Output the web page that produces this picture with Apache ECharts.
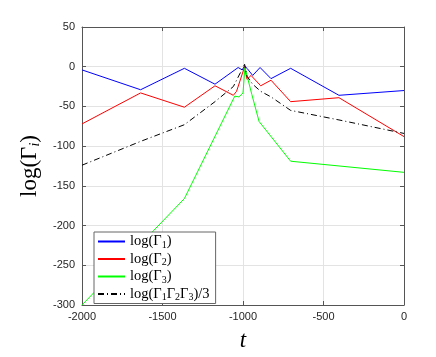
<!doctype html>
<html>
<head>
<meta charset="utf-8">
<title></title>
<style>
body{margin:0;background:#fff}
#main{width:436px;height:357px}
</style>
</head>
<body>
<div id="main"></div>
<script src="https://cdn.jsdelivr.net/npm/echarts@6/dist/echarts.min.js"></script>
<script>
// values
var t1 = [-2000, -1636, -1364, -1174, -1030, -1005, -990, -975, -940, -894, -826, -704, -404, 0];
var g1 = [-4, -29, -2, -22, -1, -4, 1, -2, -11, -1, -15, -2, -36, -30];

var t2 = [-2000, -1636, -1364, -1174, -1060, -1040, -990, -975, -950, -890, -826, -704, -404, 0];
var g2 = [-72, -33, -51, -24, -36, -31, 0, -16, -11, -24, -17, -44, -39, -88];

var t3 = [-2000, -1364, -1051, -1025, -1000, -988, -945, -900, -704, 0];
var g3 = [-300, -166, -37, -38, -33, -1, -35, -69, -119, -133];

var t4 = [-2000, -1636, -1364, -1174, -1060, -990, -975, -940, -890, -826, -704, -404, 0];
var g4 = [-124, -94, -73, -44, -25, 3, -12, -22, -31, -38, -55, -67, -84];

var xTicks = [-2000, -1500, -1000, -500, 0];
var yTicks = [-300, -250, -200, -150, -100, -50, 0, 50];

function pairs(t, v) {
    return t.map(function (x, i) { return [x, v[i]]; });
}

var frame = '#555';
var serif = 'Liberation Serif, DejaVu Serif, serif';
var sans = 'Liberation Sans, Arial, sans-serif';

var chart = echarts.init(document.getElementById('main'));
var option = {
    animation: false,
    backgroundColor: '#fff',
    grid: { left: 82, right: 32, top: 27, bottom: 45 },
    legend: {
        orient: 'vertical',
        left: 94, top: 232,
        padding: [2, 6, 1, 3],
        itemGap: 1.5,
        itemWidth: 27, itemHeight: 10,
        itemStyle: { color: 'rgba(0,0,0,0)', borderWidth: 0, opacity: 0 },
        backgroundColor: '#fff',
        borderColor: '#666', borderWidth: 1,
        data: ['g1', 'g2', 'g3', 'g4'],
        formatter: function (name) {
            var map = {
                g1: '{a|log(Γ}{s|1}{a|)}',
                g2: '{a|log(Γ}{s|2}{a|)}',
                g3: '{a|log(Γ}{s|3}{a|)}',
                g4: '{a|log(Γ}{s|1}{a|Γ}{s|2}{a|Γ}{s|3}{a|)/3}'
            };
            return map[name];
        },
        textStyle: {
            rich: {
                a: { fontFamily: serif, fontSize: 14.5, color: '#000', lineHeight: 15 },
                s: { fontFamily: serif, fontSize: 10, color: '#000', verticalAlign: 'bottom', padding: [7, 0, 0, 0] }
            }
        }
    },
    xAxis: [{
        type: 'value', min: -2000, max: 0, interval: 500,
        name: 't', nameLocation: 'middle', nameGap: 24,
        nameTextStyle: { fontFamily: serif, fontStyle: 'italic', fontSize: 23, color: '#000' },
        axisLine: { onZero: false, lineStyle: { color: frame } },
        axisTick: { inside: true, length: 4, lineStyle: { color: frame } },
        axisLabel: {
            fontFamily: sans, fontSize: 11, color: '#262626', margin: 6,
            formatter: function (v) { return xTicks.indexOf(v) >= 0 ? String(v) : ''; }
        },
        splitLine: { lineStyle: { color: '#e3e3e3' } }
    }, {
        type: 'value', min: -2000, max: 0, interval: 500, position: 'top',
        axisLine: { onZero: false, lineStyle: { color: frame } },
        axisTick: { inside: true, length: 4, lineStyle: { color: frame } },
        axisLabel: { show: false }, splitLine: { show: false }
    }],
    yAxis: [{
        type: 'value', min: -300, max: 50, interval: 50,
        name: '{a|log(Γ}{s|i}{a|)}', nameLocation: 'middle', nameGap: 36, nameRotate: 90,
        nameTextStyle: {
            rich: {
                a: { fontFamily: serif, fontSize: 23, color: '#000' },
                s: { fontFamily: serif, fontStyle: 'italic', fontSize: 14, color: '#000', verticalAlign: 'bottom', padding: [11, 0, 0, 0] }
            }
        },
        axisLine: { onZero: false, lineStyle: { color: frame } },
        axisTick: { inside: true, length: 4, lineStyle: { color: frame } },
        axisLabel: {
            fontFamily: sans, fontSize: 11, color: '#262626', margin: 7,
            formatter: function (v) { return yTicks.indexOf(v) >= 0 ? String(v) : ''; }
        },
        splitLine: { lineStyle: { color: '#e3e3e3' } }
    }, {
        type: 'value', min: -300, max: 50, interval: 50, position: 'right',
        axisLine: { onZero: false, lineStyle: { color: frame } },
        axisTick: { inside: true, length: 4, lineStyle: { color: frame } },
        axisLabel: { show: false }, splitLine: { show: false }
    }],
    series: [
        { name: 'g1', type: 'line', symbol: 'none', color: '#0000ff',
          lineStyle: { width: 1, color: '#0000ff' }, data: pairs(t1, g1) },
        { name: 'g2', type: 'line', symbol: 'none', color: '#ff0000',
          lineStyle: { width: 1, color: '#ff0000' }, data: pairs(t2, g2) },
        { name: 'g3', type: 'line', symbol: 'none', color: '#00ff00',
          lineStyle: { width: 1, color: '#00ff00' }, data: pairs(t3, g3) },
        { name: 'g4', type: 'line', symbol: 'none', color: '#000',
          lineStyle: { width: 1, color: '#000', type: [6, 3, 1, 3] }, data: pairs(t4, g4) }
    ]
};
chart.setOption(option);
</script>
</body>
</html>
